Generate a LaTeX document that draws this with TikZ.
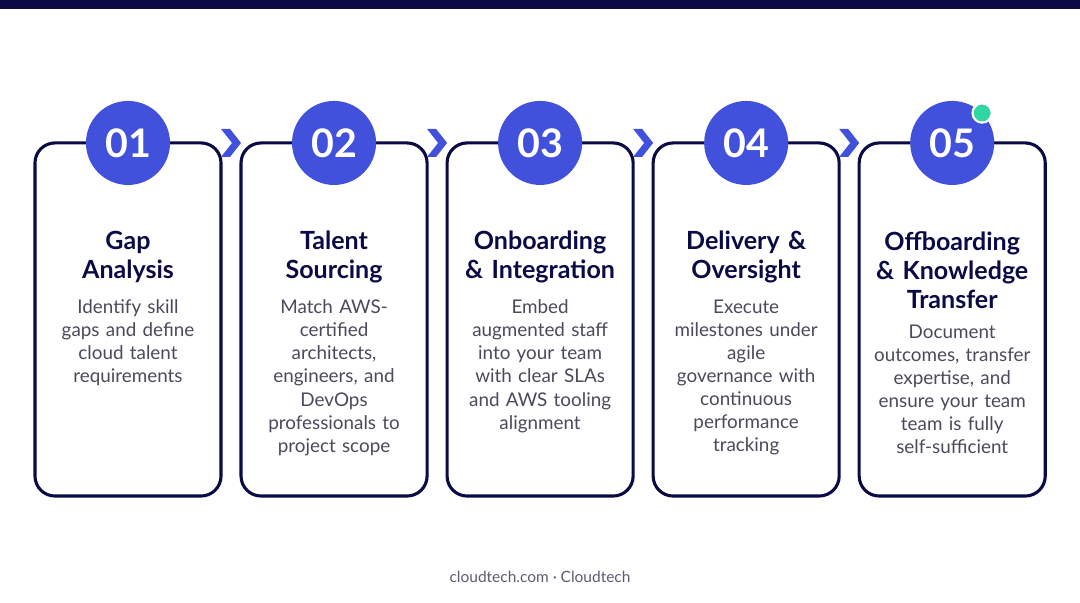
\documentclass[tikz,border=0pt]{standalone}
\usepackage{fontspec}
\setmainfont{Lato}
\usetikzlibrary{positioning,calc}
\definecolor{navy}{HTML}{0A0B45}
\definecolor{stepblue}{HTML}{4251DC}
\definecolor{mint}{HTML}{2FD6A2}
\definecolor{bodygray}{HTML}{4A4A5C}
\definecolor{footgray}{HTML}{5C5C72}
\tikzstyle{card} = [draw=navy, line width=2.2pt, rectangle, rounded corners=0.5cm, fill=white, minimum width=4.65cm, minimum height=8.825cm, inner sep=0, outer sep=0]
\tikzstyle{numdot} = [circle, fill=stepblue, minimum size=2.1cm, inner sep=0, text=white, font=\fontsize{28}{28}\selectfont\bfseries]
\tikzstyle{title} = [text width=4.5cm, align=center, inner sep=0, text=navy, font=\fontsize{17.8}{20.6}\selectfont\bfseries]
\tikzstyle{desc} = [text width=4.4cm, align=center, inner sep=0, text=bodygray, font=\fontsize{13.4}{16.4}\selectfont]
\tikzstyle{chev} = [fill=stepblue]

\begin{document}
\begin{tikzpicture}[x=0.025cm, y=0.025cm]
    % Canvas
    \fill[white] (0,0) rectangle (1080,603);
    \useasboundingbox (0,0) rectangle (1080,603);
    \fill[navy] (0,594) rectangle (1080,603);

    % Cards
    \node [card] (c1) at (128,283.5) {};
    \node [card, right=0.5cm of c1] (c2) {};
    \node [card, right=0.5cm of c2] (c3) {};
    \node [card, right=0.5cm of c3] (c4) {};
    \node [card, right=0.5cm of c4] (c5) {};

    % Step numbers
    \node [numdot] (n1) at (c1.north) {01};
    \node [numdot] (n2) at (c2.north) {02};
    \node [numdot] (n3) at (c3.north) {03};
    \node [numdot] (n4) at (c4.north) {04};
    \node [numdot] (n5) at (c5.north) {05};
    \node [circle, fill=mint, draw=white, line width=1.5pt, minimum size=0.48cm, inner sep=0] (live) at (n5.45) {};

    % Titles
    \node [title, below=2.2cm of c1.north, anchor=north] (t1) {Gap\\Analysis};
    \node [title, below=2.2cm of c2.north, anchor=north] (t2) {Talent\\Sourcing};
    \node [title, below=2.2cm of c3.north, anchor=north] (t3) {Onboarding\\\& Integration};
    \node [title, below=2.2cm of c4.north, anchor=north] (t4) {Delivery \&\\Oversight};
    \node [title, below=2.2cm of c5.north, anchor=north] (t5) {Offboarding\\\& Knowledge\\Transfer};

    % Descriptions
    \node [desc, below=0.4cm of t1] (d1) {Identify skill\\gaps and define\\cloud talent\\requirements};
    \node [desc, below=0.4cm of t2] (d2) {Match AWS-\\certified\\architects,\\engineers, and\\DevOps\\professionals to\\project scope};
    \node [desc, below=0.4cm of t3] (d3) {Embed\\augmented staff\\into your team\\with clear SLAs\\and AWS tooling\\alignment};
    \node [desc, below=0.4cm of t4] (d4) {Execute\\milestones under\\agile\\governance with\\continuous\\performance\\tracking};
    \node [desc, below=0.4cm of t5] (d5) {Document\\outcomes, transfer\\expertise, and\\ensure your team\\team is fully\\self-sufficient};

    % Chevrons
    \foreach \a/\b in {c1/c2, c2/c3, c3/c4, c4/c5} {
        \fill [chev] ($(\a.north east)!0.5!(\b.north west)$)
            ++(-10,14) -- ++(9,0) -- ++(11,-14) -- ++(-11,-14) -- ++(-9,0) -- ++(11,14) -- cycle;
    }

    % Footer
    \node [text=footgray, font=\fontsize{11}{13}\selectfont] (foot) at (540,26) {cloudtech.com · Cloudtech};
\end{tikzpicture}
\end{document}
